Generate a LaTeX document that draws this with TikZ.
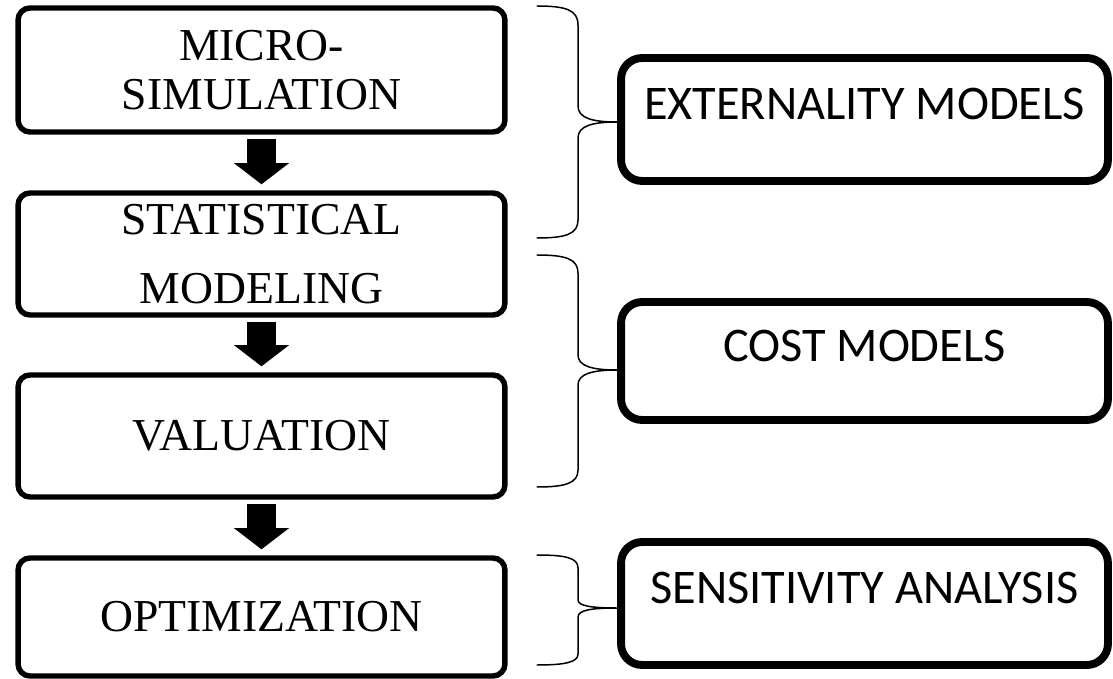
\documentclass[tikz,border=0pt]{standalone}
\usepackage{fontspec}
\setmainfont{Liberation Serif}
\newfontfamily\groupfont{Carlito}
\usetikzlibrary{arrows.meta, positioning}

\begin{document}
\begin{tikzpicture}[
        x=0.02cm, y=-0.02cm,
        stepBox/.style={
            rectangle, rounded corners=6.8pt, draw=black, line width=3.1pt,
            minimum width=9.74cm, minimum height=2.44cm, align=center,
            font=\fontsize{26pt}{28.3pt}\selectfont
        },
        groupBox/.style={
            rectangle, rounded corners=12pt, draw=black, line width=4.5pt,
            minimum width=9.74cm, minimum height=2.46cm,
            text height=0.6em, text depth=0.6em,
            font=\groupfont\fontsize{27.5pt}{33pt}\selectfont
        },
        blockArrow/.style={
            line width=17pt, -{Triangle[width=30.6pt, length=12pt]},
            shorten <=2.3pt, shorten >=3.4pt
        },
        braceLine/.style={
            line width=0.85pt, line cap=round
        }
    ]
        \useasboundingbox (0,0) rectangle (1113,679);

        % Nodes
        \node (micro) [stepBox, minimum height=2.48cm] at (261.5,70) {MICRO-\\SIMULATION};
        \node (stats) [stepBox] at (261.5,254) {STATISTICAL\\[10.7pt]MODELING};
        \node (valuation) [stepBox] at (261.5,436) {VALUATION};
        \node (optim) [stepBox, minimum height=2.36cm] at (261.5,617) {OPTIMIZATION};

        \node (extModels) [groupBox] at (864.5,119.5) {EXTERNALITY MODELS};
        \node (costModels) [groupBox, minimum height=2.36cm] at (864.5,361) {COST MODELS};
        \node (sensitivity) [groupBox] at (864.5,603.5) {SENSITIVITY ANALYSIS};

        % Arrows
        \draw [blockArrow] (micro) -- (stats);
        \draw [blockArrow] (stats) -- (valuation);
        \draw [blockArrow] (valuation) -- (optim);

        % Braces
        \draw [braceLine] (537,6) .. controls (566,6) and (578,10) .. (578,25)
            -- (578,106) .. controls (578,118) and (592,122) .. (617,122)
            .. controls (592,122) and (578,126) .. (578,138)
            -- (578,220) .. controls (578,234) and (566,238) .. (537,238);
        \draw [braceLine] (537,255) .. controls (566,255) and (578,259) .. (578,273)
            -- (578,355) .. controls (578,366) and (592,370) .. (617,370)
            .. controls (592,370) and (578,374) .. (578,385)
            -- (578,470) .. controls (578,483) and (566,487) .. (537,487);
        \draw [braceLine] (537,555) .. controls (566,555) and (578,558) .. (578,568)
            -- (578,600) .. controls (578,606) and (592,608) .. (617,608)
            .. controls (592,608) and (578,610) .. (578,617)
            -- (578,654) .. controls (578,662) and (566,665) .. (537,665);
    \end{tikzpicture}
\end{document}
